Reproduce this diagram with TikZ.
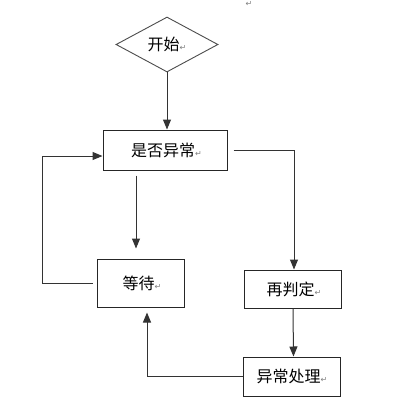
\documentclass[tikz,border=0pt]{standalone}
\usepackage{fontspec}
\newfontfamily\cjk{Noto Sans CJK SC}
\newfontfamily\symf{DejaVu Sans}
\usetikzlibrary{shapes.geometric,arrows.meta}
\newcommand{\pmark}{{\symf\fontsize{8}{8}\selectfont\textcolor{black!50}{↵}}}
\tikzset{
  box/.style={draw=black!85, line width=1pt, rectangle, inner sep=0pt, font=\cjk\fontsize{16}{16}\selectfont},
  startdia/.style={draw=black!70, line width=0.9pt, diamond, inner sep=0pt, font=\cjk\fontsize{16}{16}\selectfont},
  conn/.style={draw=black!80, line width=1pt},
  arr/.style={conn, -{Triangle[length=10pt,width=8pt]}}
}
\begin{document}
\begin{tikzpicture}[x=1pt,y=-1pt]
\useasboundingbox[fill=white] (0,0) rectangle (400,400);
\node[font=\symf\fontsize{8}{8}\selectfont, text=black!50] (topmark) at (249,4) {↵};
\node[startdia, minimum width=102pt, minimum height=55pt] (start) at (167,44.5) {开始\pmark};
\node[box, minimum width=124pt, minimum height=40pt] (check) at (165,150) {\hspace{3pt}是否异常\pmark};
\node[box, minimum width=87pt, minimum height=48pt] (wait) at (140.5,283) {\hspace{3pt}等待\pmark};
\node[box, minimum width=97pt, minimum height=38pt] (rej) at (292.5,289) {\hspace{3pt}再判定\pmark};
\node[box, minimum width=97pt, minimum height=39pt] (handle) at (292,376.5) {异常处理\pmark};

\draw[arr] (start.south) -- (start.south |- check.north);
\draw[arr, shorten <=6pt] (check.east) -| ([xshift=1.5pt]rej.north);
\draw[arr, shorten <=5pt, shorten >=10pt] ([xshift=-29pt]check.south) -- ([xshift=-29pt]check.south |- wait.north);
\draw[arr, shorten <=4pt] (wait.west) -- ++(-54,0) |- ([yshift=-6pt]check.west);
\draw[arr] ([xshift=0.5pt]rej.south) -- ([xshift=1.5pt]handle.north);
\draw[arr, shorten >=5pt] (handle.west) -| ([xshift=6.5pt]wait.south);
\end{tikzpicture}
\end{document}
